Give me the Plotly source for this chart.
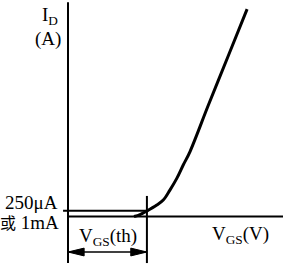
import plotly.graph_objects as go

# Transfer characteristic (arbitrary units)
vgs = [3.07, 3.35, 3.66, 4.13, 4.43, 4.74, 5.06, 5.36, 5.67, 6.53, 7.47, 8.33]
i_d = [0.0, 0.09, 0.25, 0.53, 0.76, 1.22, 1.76, 2.38, 2.99, 5.15, 7.46, 9.58]

vth = 3.67        # threshold voltage position
ith = 0.26        # 250uA / 1mA level
x_max = 10.0
y_top = 9.9
y_bottom = -2.15
arrow_y = -1.64

fig = go.Figure()
line = dict(color="black", width=2)

# axes
fig.add_trace(go.Scatter(x=[0, 0], y=[y_top, y_bottom], mode="lines", line=line))
fig.add_trace(go.Scatter(x=[0, x_max], y=[0, 0], mode="lines", line=line))
# threshold level line
fig.add_trace(go.Scatter(x=[-0.23, vth], y=[ith, ith], mode="lines", line=line))
# vertical at Vth
fig.add_trace(go.Scatter(x=[vth, vth], y=[0.95, y_bottom], mode="lines", line=line))
# dimension line
fig.add_trace(go.Scatter(x=[0, vth], y=[arrow_y, arrow_y], mode="lines", line=dict(color="black", width=1.5)))
ah_dx, ah_dy = 0.75, 0.18
for tip, d in ((0.0, 1), (vth, -1)):
    fig.add_trace(go.Scatter(x=[tip, tip + d * ah_dx, tip + d * ah_dx, tip],
                             y=[arrow_y, arrow_y + ah_dy, arrow_y - ah_dy, arrow_y],
                             mode="lines", fill="toself", fillcolor="black",
                             line=dict(color="black", width=1)))
# curve
fig.add_trace(go.Scatter(x=vgs, y=i_d, mode="lines", line=dict(color="black", width=3, shape="spline")))

font = dict(family="Liberation Serif", size=19, color="black")
ann = [
    dict(x=-1.32, y=9.25, text="I<sub>D</sub>", xanchor="left", yanchor="middle"),
    dict(x=-0.95, y=8.22, text="(A)", xanchor="center", yanchor="middle"),
    dict(x=-0.36, y=0.67, text="250μA", xanchor="right", yanchor="middle"),
    dict(x=-0.33, y=-0.25,
         text="<span style='font-size:16px;font-family:Noto Sans CJK SC'>或</span> 1mA",
         xanchor="right", yanchor="middle"),
    dict(x=1.84, y=-0.95, text="V<sub>GS</sub>(th)", xanchor="center", yanchor="middle"),
    dict(x=8.0, y=-0.85, text="V<sub>GS</sub>(V)", xanchor="center", yanchor="middle"),
]
for a in ann:
    a.update(showarrow=False, font=font, xref="x", yref="y")

fig.update_layout(
    width=283, height=265,
    margin=dict(l=0, r=0, t=0, b=0),
    paper_bgcolor="white", plot_bgcolor="white",
    showlegend=False,
    annotations=ann,
    xaxis=dict(range=[-3.163, 10], visible=False, fixedrange=True),
    yaxis=dict(range=[-2.24, 10], visible=False, fixedrange=True),
)
fig.write_html("out.html", config={"displayModeBar": False})
